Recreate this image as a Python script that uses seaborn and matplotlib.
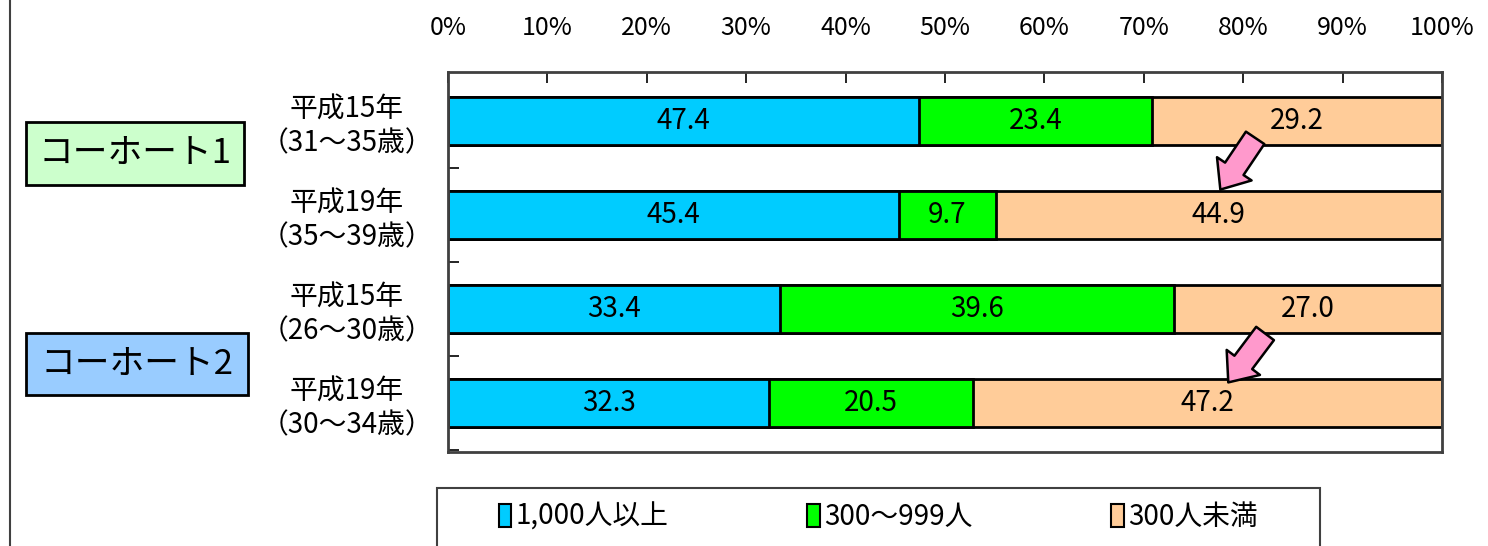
import matplotlib
matplotlib.use("Agg")
import matplotlib.pyplot as plt
from matplotlib.patches import Rectangle, Patch
from matplotlib.lines import Line2D
from matplotlib.ticker import FixedLocator
import numpy as np
import pandas as pd
import seaborn as sns

# --- data ---------------------------------------------------------------
categories = ["平成15年\n（31～35歳）", "平成19年\n（35～39歳）",
              "平成15年\n（26～30歳）", "平成19年\n（30～34歳）"]
series_names = ["1,000人以上", "300～999人", "300人未満"]
large = [47.4, 45.4, 33.4, 32.3]
medium = [23.4, 9.7, 39.6, 20.5]
small = [29.2, 44.9, 27.0, 47.2]
x_ticks = [0, 10, 20, 30, 40, 50, 60, 70, 80, 90, 100]
x_tick_labels = [f"{t}%" for t in x_ticks]
cohort_labels = ["コーホート1", "コーホート2"]

colors = ["#00CCFF", "#00FF00", "#FFCC99"]

sns.set_theme(style="white")
plt.rcParams["font.family"] = ["Noto Sans CJK JP", "DejaVu Sans"]
plt.rcParams["text.color"] = "black"
plt.rcParams["xtick.color"] = "black"
plt.rcParams["ytick.color"] = "black"

df = pd.DataFrame({"cat": categories, "large": large, "medium": medium, "small": small})
df["c1"] = df["large"]
df["c2"] = df["large"] + df["medium"]
df["c3"] = df["large"] + df["medium"] + df["small"]

fig = plt.figure(figsize=(14.88, 5.46), dpi=100)
ax = fig.add_axes([448 / 1488, 1 - 452 / 546, (1442 - 448) / 1488, (452 - 72) / 546])

# stacked bars drawn as overlaid cumulative totals
for col, color in zip(["c3", "c2", "c1"], colors[::-1]):
    sns.barplot(data=df, x=col, y="cat", order=categories, orient="h",
                color=color, edgecolor="black", linewidth=2.0, width=0.51,
                saturation=1, ax=ax)

# value labels at segment centers
for i in range(len(categories)):
    left = 0.0
    for vals in (large, medium, small):
        v = vals[i]
        ax.text(left + v / 2, i, f"{v:.1f}", ha="center", va="center",
                fontsize=20, color="black")
        left += v

ax.set_xlim(0, 100)
ax.set_ylim(3.52, -0.52)
ax.set_xlabel("")
ax.set_ylabel("")

ax.xaxis.tick_top()
ax.set_xticks(x_ticks)
ax.set_xticklabels(x_tick_labels, fontsize=18)
ax.tick_params(axis="x", direction="in", length=8, width=1.2, color="black", pad=22,
               top=True, bottom=False)

ax.set_yticks(range(len(categories)))
ax.set_yticklabels(categories, fontsize=20, multialignment="center", linespacing=1.15)
ax.tick_params(axis="y", which="major", length=0, pad=73)
for lbl in ax.get_yticklabels():
    lbl.set_horizontalalignment("center")
ax.yaxis.set_minor_locator(FixedLocator([0.5, 1.5, 2.5, 3.5]))
ax.tick_params(axis="y", which="minor", direction="in", length=8, width=1.2,
               color="black", left=True)

for side, sp in ax.spines.items():
    sp.set_visible(True)
    sp.set_color("#404040")
    sp.set_linewidth(2)

# pink arrows marking the shift toward small firms
arrow_style = "simple,head_length=0.9,head_width=1.5,tail_width=0.8"
for (x0, y0), (x1, y1) in [((81.2, 0.18), (77.7, 0.73)), ((82.2, 2.26), (78.5, 2.78))]:
    ax.annotate("", xy=(x1, y1), xytext=(x0, y0),
                arrowprops=dict(arrowstyle=arrow_style, mutation_scale=20,
                                facecolor="#FF99CC", edgecolor="black", lw=1.8,
                                shrinkA=0, shrinkB=0),
                annotation_clip=False)

# cohort name boxes
for (x0, y0, x1, y1), text, fc in [((26, 122, 244, 185), cohort_labels[0], "#CCFFCC"),
                                   ((26, 333, 248, 395), cohort_labels[1], "#99CCFF")]:
    fig.add_artist(Rectangle((x0 / 1488, 1 - y1 / 546), (x1 - x0) / 1488, (y1 - y0) / 546,
                             transform=fig.transFigure, facecolor=fc,
                             edgecolor="black", linewidth=2))
    fig.text((x0 + x1) / 2 / 1488, 1 - (y0 + y1) / 2 / 546, text, ha="center",
             va="center", fontsize=25)

# left border line
fig.add_artist(Line2D([10 / 1488, 10 / 1488], [0, 1], transform=fig.transFigure,
                      color="#404040", linewidth=1.5))

# legend with its own frame
fig.add_artist(Rectangle((437 / 1488, -0.05), (1320 - 437) / 1488, 0.05 + 1 - 488 / 546,
                         transform=fig.transFigure, facecolor="white",
                         edgecolor="#404040", linewidth=1.5))
handles = [Patch(facecolor=c, edgecolor="black", linewidth=1.5) for c in colors]
fig.legend(handles, series_names, loc="center", bbox_to_anchor=(878 / 1488, 1 - 517 / 546),
           ncol=3, frameon=False, fontsize=20, handlelength=0.45, handleheight=0.9,
           handletextpad=0.15, columnspacing=5.0)

fig.savefig("out.png", dpi=100)
